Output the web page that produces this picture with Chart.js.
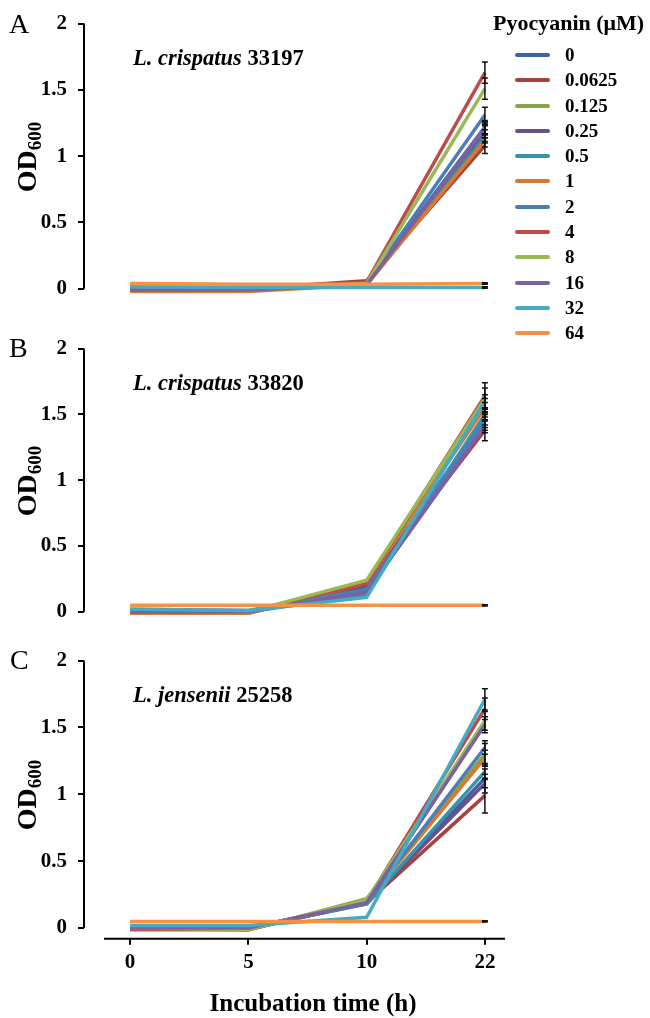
<!DOCTYPE html>
<html>
<head>
<meta charset="utf-8">
<script src="https://cdn.jsdelivr.net/npm/chart.js@4.4.0/dist/chart.umd.min.js"></script>
<style>
body { margin: 0; background: #fff; }
#page { position: relative; width: 650px; height: 1018px; overflow: hidden; font-family: 'Liberation Serif', 'Times New Roman', serif; color: #000; }
#page canvas { position: absolute; left: 0; }
.letter { position: absolute; font-size: 28px; line-height: 1; transform: translateY(-50%); }
.strain { position: absolute; font-size: 22.5px; font-weight: bold; line-height: 1; white-space: nowrap; transform: translateY(-50%); }
.od { position: absolute; font-size: 28px; font-weight: bold; line-height: 1; white-space: nowrap; transform: translate(-50%, -50%) rotate(-90deg); }
.od sub { font-size: 19px; vertical-align: -5px; line-height: 0; }
#xtitle { position: absolute; left: 313px; top: 1003px; transform: translate(-50%, -50%); font-size: 25px; font-weight: bold; white-space: nowrap; }
#legend { position: absolute; left: 493px; top: 10px; }
#legend .ttl { font-size: 22px; font-weight: bold; white-space: nowrap; height: 32px; }
#legend .row { position: relative; height: 25.3px; font-size: 19px; font-weight: bold; }
#legend .sw { position: absolute; left: 22px; top: 11px; width: 35px; height: 4px; border-radius: 2px; }
#legend .lb { position: absolute; left: 72px; top: 2px; }
</style>
</head>
<body>
<div id="page">
  <canvas id="chartA" width="520" height="323" style="top:0px"></canvas>
  <canvas id="chartB" width="520" height="321" style="top:325px"></canvas>
  <canvas id="chartC" width="520" height="381" style="top:637px"></canvas>

  <div class="letter" style="left:9px; top:24px">A</div>
  <div class="letter" style="left:9px; top:348px">B</div>
  <div class="letter" style="left:10px; top:660px">C</div>

  <div class="strain" style="left:133px; top:58px"><i>L. crispatus</i> 33197</div>
  <div class="strain" style="left:133px; top:383px"><i>L. crispatus</i> 33820</div>
  <div class="strain" style="left:133px; top:695px"><i>L. jensenii</i> 25258</div>

  <div class="od" style="left:27px; top:157px">OD<sub>600</sub></div>
  <div class="od" style="left:27px; top:481px">OD<sub>600</sub></div>
  <div class="od" style="left:27px; top:795px">OD<sub>600</sub></div>

  <div id="xtitle">Incubation time (h)</div>
  <div id="legend"><div class="ttl">Pyocyanin (μM)</div></div>
</div>

<script>
// Time points (h) - drawn equally spaced like the original
const times = ['0', '5', '10', '22'];

// Pyocyanin concentrations (uM) and series colours
const concs = ['0', '0.0625', '0.125', '0.25', '0.5', '1', '2', '4', '8', '16', '32', '64'];
const colors = ['#3B64A5', '#A8403D', '#87A54A', '#6A4F8A', '#3A92A8', '#D8792F',
                '#4A7EBB', '#BE4B48', '#98B954', '#7D60A0', '#46AAC5', '#F69240'];

// OD600 at 0, 5, 10, 22 h, one row per concentration
const odA = [
    [0.00, 0.00, 0.04, 1.22],
    [0.00, 0.00, 0.06, 1.08],
    [0.00, -0.01, 0.04, 1.17],
    [-0.01, -0.01, 0.03, 1.19],
    [0.01, 0.00, 0.03, 1.15],
    [-0.02, -0.02, 0.03, 1.12],
    [0.00, 0.00, 0.04, 1.31],
    [0.01, 0.01, 0.05, 1.63],
    [0.01, 0.00, 0.04, 1.51],
    [-0.01, -0.01, 0.03, 1.21],
    [0.015, 0.01, 0.01, 0.01],
    [0.04, 0.035, 0.035, 0.04]
];
const odB = [
    [0.01, 0.00, 0.19, 1.47],
    [-0.01, -0.01, 0.21, 1.38],
    [0.01, 0.00, 0.23, 1.57],
    [0.00, 0.00, 0.16, 1.43],
    [0.01, 0.00, 0.13, 1.50],
    [-0.01, -0.01, 0.22, 1.55],
    [0.02, 0.01, 0.17, 1.45],
    [0.00, 0.00, 0.22, 1.64],
    [0.01, 0.00, 0.24, 1.62],
    [0.00, 0.00, 0.15, 1.41],
    [0.02, 0.01, 0.11, 1.60],
    [0.05, 0.05, 0.05, 0.05]
];
const odC = [
    [0.01, 0.00, 0.18, 1.12],
    [-0.01, -0.01, 0.19, 0.99],
    [0.00, -0.015, 0.22, 1.30],
    [0.00, 0.00, 0.19, 1.08],
    [0.01, 0.00, 0.18, 1.17],
    [0.00, -0.01, 0.20, 1.27],
    [0.01, 0.00, 0.19, 1.35],
    [-0.01, -0.01, 0.20, 1.64],
    [0.00, -0.01, 0.21, 1.55],
    [0.00, 0.00, 0.19, 1.52],
    [0.02, 0.02, 0.08, 1.71],
    [0.05, 0.05, 0.05, 0.05]
];

// SD at 22 h (error bars)
const errA = [0.05, 0.06, 0.06, 0.05, 0.05, 0.05, 0.06, 0.08, 0.08, 0.05, 0.005, 0.005];
const errB = [0.05, 0.08, 0.05, 0.05, 0.05, 0.04, 0.05, 0.10, 0.08, 0.05, 0.05, 0.005];
const errC = [0.07, 0.13, 0.08, 0.07, 0.06, 0.06, 0.05, 0.08, 0.07, 0.06, 0.08, 0.005];

const FONT = "'Liberation Serif', 'Times New Roman', serif";

// Legend
const legend = document.getElementById('legend');
concs.forEach((c, i) => {
    const row = document.createElement('div');
    row.className = 'row';
    row.innerHTML = '<span class="sw" style="background:' + colors[i] + '"></span><span class="lb">' + c + '</span>';
    legend.appendChild(row);
});

// y axis line (0..2 only) and detached x axis line
const axisLines = {
    id: 'axisLines',
    afterDraw(chart, args, opts) {
        const ctx = chart.ctx;
        const area = chart.chartArea;
        const y = chart.scales.y;
        ctx.save();
        ctx.strokeStyle = '#000';
        ctx.lineWidth = 2;
        ctx.beginPath();
        ctx.moveTo(area.left, y.getPixelForValue(0));
        ctx.lineTo(area.left, y.getPixelForValue(2));
        ctx.stroke();
        if (opts.showX) {
            ctx.beginPath();
            ctx.moveTo(area.left + 20, area.bottom);
            ctx.lineTo(area.right, area.bottom);
            ctx.stroke();
        }
        ctx.restore();
    }
};

// Error bars on the 22 h point
const errorBars = {
    id: 'errorBars',
    afterDatasetsDraw(chart, args, opts) {
        const ctx = chart.ctx;
        const x = chart.scales.x, y = chart.scales.y;
        ctx.save();
        ctx.strokeStyle = '#111';
        ctx.lineWidth = 1.5;
        chart.data.datasets.forEach((ds, i) => {
            const e = opts.err[i];
            const last = ds.data.length - 1;
            const px = x.getPixelForValue(last);
            const top = y.getPixelForValue(ds.data[last].y + e);
            const bot = y.getPixelForValue(ds.data[last].y - e);
            ctx.beginPath();
            ctx.moveTo(px, top); ctx.lineTo(px, bot);
            ctx.moveTo(px - 3, top); ctx.lineTo(px + 3, top);
            ctx.moveTo(px - 3, bot); ctx.lineTo(px + 3, bot);
            ctx.stroke();
        });
        ctx.restore();
    }
};

function makePanel(id, od, err, showX, plotH) {
    const ctx = document.getElementById(id).getContext('2d');
    const canvasH = ctx.canvas.height;
    const xScale = {
        type: 'linear',
        display: showX,
        min: -0.39,
        max: 3.17,
        border: { display: false },
        grid: { display: true, drawOnChartArea: false, drawTicks: true, tickLength: 6, color: '#000', lineWidth: 2 },
        ticks: {
            stepSize: 1,
            includeBounds: false,
            autoSkip: false,
            maxRotation: 0,
            padding: 5,
            color: '#000',
            font: { family: FONT, size: 21, weight: 'bold' },
            callback: (v) => times[v] ?? ''
        }
    };
    if (showX) xScale.afterFit = (s) => { s.height = canvasH - 22 - plotH; };

    return new Chart(ctx, {
        type: 'line',
        data: {
            datasets: od.map((vals, i) => ({
                label: concs[i],
                data: vals.map((v, k) => ({ x: k, y: v })),
                borderColor: colors[i],
                backgroundColor: colors[i],
                borderWidth: 3.5,
                pointRadius: 0,
                tension: 0,
                clip: false,
                order: concs.length - i
            }))
        },
        options: {
            responsive: false,
            animation: false,
            layout: { padding: { top: 22, bottom: 0, left: 0, right: 15 } },
            plugins: {
                legend: { display: false },
                tooltip: { enabled: false },
                axisLines: { showX: showX },
                errorBars: { err: err }
            },
            scales: {
                x: xScale,
                y: {
                    min: -0.08,
                    max: 2,
                    afterFit: (s) => { s.width = 84; },
                    border: { display: false },
                    grid: { display: true, drawOnChartArea: false, drawTicks: true, tickLength: 6, color: '#000', lineWidth: 2 },
                    ticks: {
                        stepSize: 0.5,
                        includeBounds: false,
                        padding: 11,
                        color: '#000',
                        font: { family: FONT, size: 21, weight: 'bold' },
                        callback: (v) => String(v)
                    }
                }
            }
        },
        plugins: [axisLines, errorBars]
    });
}

makePanel('chartA', odA, errA, false, 0);
makePanel('chartB', odB, errB, false, 0);
makePanel('chartC', odC, errC, true, 2.08 * 134.5);
</script>
</body>
</html>
